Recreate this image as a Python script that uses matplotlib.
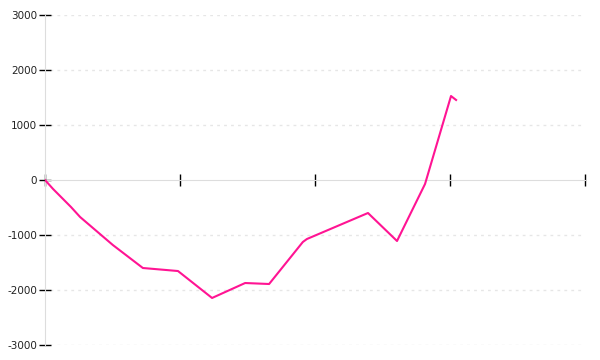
import matplotlib
matplotlib.use("Agg")
import matplotlib.pyplot as plt

plt.rcParams["axes.unicode_minus"] = False

# values
x_vals = [0, 0.24, 0.77, 1.04, 2.01, 2.90, 3.94, 4.95, 5.93, 6.64, 7.64, 7.76, 9.57, 10.43, 11.26, 12.03, 12.18]
y_vals = [0, -164, -491, -673, -1182, -1600, -1655, -2145, -1873, -1891, -1127, -1073, -600, -1109, -73, 1527, 1455]
x_ticks = [0, 4, 8, 12, 16]
y_ticks = [-3000, -2000, -1000, 0, 1000, 2000, 3000]

fig = plt.figure(figsize=(6, 3.6), dpi=100)
ax = fig.add_axes([0.075, 15 / 360, 0.9, 330 / 360])

# dotted grid
for v in y_ticks:
    if v != 0:
        ax.axhline(v, color="#e6e6e6", lw=1, ls=(0, (2, 3)), xmin=0.01, zorder=0)

ax.plot(x_vals, y_vals, color="#ff1493", lw=1.5, zorder=3)

ax.set_xlim(0, 16)
ax.set_ylim(-3000, 3000)

for s in ["top", "right"]:
    ax.spines[s].set_visible(False)
ax.spines["left"].set_color("#dddddd")
ax.spines["bottom"].set_position(("data", 0))
ax.spines["bottom"].set_color("#dddddd")

ax.set_xticks(x_ticks)
ax.set_xticklabels([])
ax.tick_params(axis="x", direction="inout", length=8, width=1, color="black")
ax.set_yticks(y_ticks)
ax.tick_params(axis="y", direction="inout", length=9, width=1, color="black",
               labelsize=7.5, pad=1, labelcolor="#222222")

fig.savefig("out.png", dpi=100)
